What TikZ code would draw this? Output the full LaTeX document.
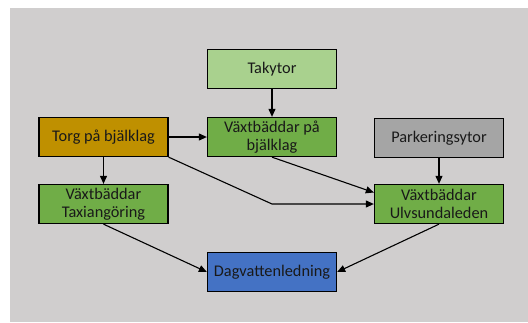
\documentclass[tikz,border=0pt]{standalone}
\usepackage{fontspec}
\setmainfont{Carlito}
\usepackage{xcolor}
\usepackage{tikz}
\usetikzlibrary{arrows.meta}
\definecolor{bggray}{HTML}{D0CECE}
\definecolor{lightgreen}{HTML}{A9D18E}
\definecolor{midgreen}{HTML}{70AD47}
\definecolor{gold}{HTML}{BF9000}
\definecolor{midgray}{HTML}{A5A5A5}
\definecolor{midblue}{HTML}{4472C4}
\tikzset{
  flowbox/.style={draw=black,line width=1.3pt,fill=#1,minimum width=129pt,
    minimum height=39pt,inner sep=1pt,align=center,
    font=\fontsize{16.3}{18.5}\selectfont,text=black!90},
  flowarrow/.style={line width=1.1pt,-{Triangle[length=8pt,width=7pt]}}
}

\begin{document}
\begin{tikzpicture}[x=1pt,y=-1pt]
    \useasboundingbox (0,0) rectangle (528,322);
    \fill[bggray] (10,8) rectangle (528,322);

      \node[flowbox=lightgreen] (tak)  at (272,69)    {Takytor};
      \node[flowbox=gold]       (torg) at (103.5,137) {Torg på bjälklag};
      \node[flowbox=midgreen]   (bjal) at (272,137)   {Växtbäddar på\\bjälklag};
      \node[flowbox=midgray]    (park) at (439,138)   {Parkeringsytor};
      \node[flowbox=midgreen]   (taxi) at (103.5,204) {Växtbäddar\\Taxiangöring};
      \node[flowbox=midgreen]   (ulv)  at (439,204)   {Växtbäddar\\Ulvsundaleden};
      \node[flowbox=midblue]    (dag)  at (272,272)   {Dagvattenledning};
      \coordinate (knee) at (272,204);

      \draw[flowarrow] (tak.south) -- (bjal.north);
      \draw[flowarrow] (torg.east) -- (bjal.west);
      \draw[flowarrow] (torg.south) -- (taxi.north);
      \draw[flowarrow] (torg.south east) -- (knee) -- (ulv.west);
      \draw[flowarrow] (bjal.south) -- (ulv.170);
      \draw[flowarrow] (park.south) -- (ulv.north);
      \draw[flowarrow] (taxi.south) -- (dag.west);
      \draw[flowarrow] (ulv.south) -- (dag.east);

    \end{tikzpicture}
\end{document}
